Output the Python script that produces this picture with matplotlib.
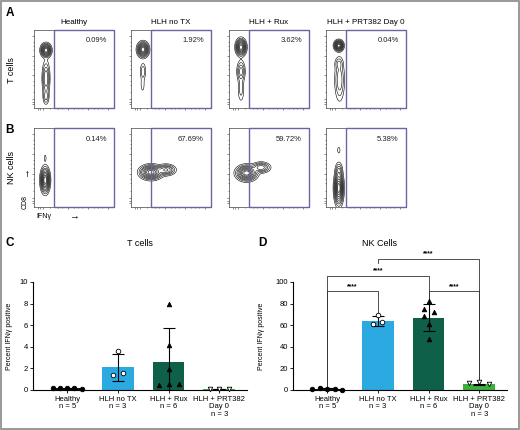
import numpy as np
import matplotlib
matplotlib.use("Agg")
import matplotlib.pyplot as plt
from matplotlib.patches import Rectangle

plt.rcParams["font.family"] = ["Liberation Sans", "DejaVu Sans"]

W, H = 520, 430

# ------------------------
# Flow panels (A, B)
# ------------------------
conditions = ["Healthy", "HLH no TX", "HLH + Rux", "HLH + PRT382 Day 0"]
t_cell_pct = ["0.09%", "1.92%", "3.62%", "0.04%"]
nk_cell_pct = ["0.14%", "67.69%", "59.72%", "5.38%"]

# population blobs per plot: (x, y, sx, sy, weight) in axis fraction units
t_cell_pops = [
    [(0.15, 0.74, 0.030, 0.040, 1.0), (0.15, 0.38, 0.024, 0.110, 0.30), (0.15, 0.14, 0.020, 0.05, 0.15)],
    [(0.15, 0.75, 0.033, 0.045, 1.0), (0.15, 0.47, 0.020, 0.060, 0.12), (0.145, 0.30, 0.015, 0.06, 0.06)],
    [(0.15, 0.78, 0.030, 0.050, 1.0), (0.15, 0.47, 0.026, 0.070, 0.25), (0.15, 0.24, 0.022, 0.09, 0.10)],
    [(0.16, 0.80, 0.027, 0.032, 1.0), (0.17, 0.36, 0.032, 0.140, 0.20), (0.16, 0.57, 0.026, 0.04, 0.12)],
]
nk_cell_pops = [
    [(0.14, 0.34, 0.027, 0.075, 1.0), (0.14, 0.62, 0.010, 0.035, 0.05)],
    [(0.25, 0.44, 0.065, 0.042, 1.0), (0.44, 0.47, 0.055, 0.033, 0.45)],
    [(0.22, 0.43, 0.060, 0.045, 1.0), (0.40, 0.50, 0.055, 0.032, 0.40)],
    [(0.16, 0.24, 0.027, 0.100, 1.0), (0.16, 0.46, 0.023, 0.055, 0.18), (0.16, 0.72, 0.012, 0.030, 0.06)],
]

gate_x = 0.25
flow_left = [34, 131, 229, 326]
flow_w = 80
rows = [(30, 108), (128, 207)]

# ------------------------
# Bar panels (C, D)
# ------------------------
categories = ["Healthy\nn = 5", "HLH no TX\nn = 3", "HLH + Rux\nn = 6", "HLH + PRT382\nDay 0\nn = 3"]
bar_colors = ["#111111", "#2BA9E1", "#0E6148", "#3CAF3C"]
markers = ["o", "o", "^", "v"]
marker_fill = ["black", "white", "black", "white"]

t_mean = [0.17, 2.1, 2.6, 0.1]
t_sd = [0.04, 1.25, 3.1, 0.02]
t_points = [
    [0.18, 0.2, 0.2, 0.2, 0.12],
    [3.6, 1.4, 1.55],
    [8.0, 4.2, 1.9, 0.45, 0.6, 0.55],
    [0.1, 0.1, 0.1],
]
t_offsets = [
    [-0.29, -0.14, 0, 0.14, 0.29],
    [0, -0.1, 0.1],
    [0, 0, 0, -0.19, 0, 0.2],
    [-0.19, 0, 0.19],
]

nk_mean = [1.0, 63.7, 67.0, 5.2]
nk_sd = [0.6, 4.6, 12.8, 0.8]
nk_points = [
    [0.5, 1.9, 1.2, 1.2, 0.1],
    [69.5, 61.0, 62.6],
    [82.5, 75.4, 72.3, 68.3, 61.0, 46.8],
    [6.2, 7.7, 5.5],
]
nk_offsets = [
    [-0.3, -0.15, 0, 0.15, 0.29],
    [0, -0.1, 0.085],
    [0, -0.1, 0.1, -0.1, 0, 0],
    [-0.2, 0, 0.19],
]

# brackets: (left group, right group, line y, left leg end, right leg end)
nk_brackets = [
    (0, 1, 91.4, 3.0, 69.5),
    (0, 2, 106.0, 3.0, 82.0),
    (1, 3, 121.5, 117.8, 9.0),
    (2, 3, 91.4, 81.0, 9.0),
]


def px_axes(l, t, r, b):
    return fig.add_axes([l / W, 1 - b / H, (r - l) / W, (b - t) / H])


fig = plt.figure(figsize=(W / 100, H / 100), dpi=100)

gx, gy = np.meshgrid(np.linspace(0, 1, 240), np.linspace(0, 1, 240))
levels = [0.03, 0.07, 0.13, 0.2, 0.3, 0.42, 0.55, 0.7, 0.85]

for r, (pops, pcts) in enumerate([(t_cell_pops, t_cell_pct), (nk_cell_pops, nk_cell_pct)]):
    top, bot = rows[r]
    for c in range(4):
        ax = px_axes(flow_left[c], top, flow_left[c] + flow_w, bot)
        dens = np.zeros_like(gx)
        for (x0, y0, sx, sy, w) in pops[c]:
            dens += w * np.exp(-0.5 * (((gx - x0) / sx) ** 2 + ((gy - y0) / sy) ** 2))
        ax.contour(gx, gy, dens, levels=[l * dens.max() for l in levels],
                   colors="black", linewidths=0.4)
        ax.add_patch(Rectangle((gate_x, 0), 1 - gate_x, 1, fill=False,
                               edgecolor="#6A64A0", lw=1.0, zorder=5, clip_on=False))
        ax.text(0.91, 0.86, pcts[c], transform=ax.transAxes, ha="right",
                va="center", fontsize=5.5, color="#222222")
        ax.set_xlim(0, 1)
        ax.set_ylim(0, 1)
        for s in ax.spines.values():
            s.set_linewidth(0.5)
            s.set_color("#444444")
        ax.set_xticks([0.05, 0.08, 0.11, 0.42, 0.67, 0.92])
        ax.set_xticks([0.2, 0.3, 0.35, 0.5, 0.55, 0.6, 0.75, 0.8, 0.85], minor=True)
        ax.set_yticks([0.05, 0.08, 0.11, 0.42, 0.67, 0.92])
        ax.set_yticks([0.2, 0.3, 0.35, 0.5, 0.55, 0.6, 0.75, 0.8, 0.85], minor=True)
        ax.tick_params(which="both", length=1.5, width=0.4, labelbottom=False,
                       labelleft=False, color="#333333")
        ax.tick_params(which="minor", length=0.9)
        if r == 0:
            ax.text(0.5, 1.1, conditions[c], transform=ax.transAxes, ha="center",
                    va="center", fontsize=5.8)

fig.text(12 / W, 1 - 70 / H, "T cells", rotation=90, ha="center", va="center", fontsize=6.5)
fig.text(12 / W, 1 - 168 / H, "NK cells", rotation=90, ha="center", va="center", fontsize=6.5)
fig.text(25 / W, 1 - 172 / H, "\u2192", rotation=90, ha="center", va="center", fontsize=7)
fig.text(25 / W, 1 - 202 / H, "CD8", rotation=90, ha="center", va="center", fontsize=5)
fig.text(44 / W, 1 - 217 / H, "IFN\u03b3", ha="center", va="center", fontsize=5)
fig.text(74 / W, 1 - 216 / H, "\u2192", ha="center", va="center", fontsize=7)


def bar_panel(ax, means, sds, points, offsets, ymax, yticks):
    x = np.arange(len(categories))
    ax.bar(x, means, width=0.62, color=bar_colors, zorder=1)
    ax.errorbar(x, means, yerr=sds, fmt="none", ecolor="black", elinewidth=0.8,
                capsize=4.5, capthick=0.8, zorder=2)
    for i in range(len(categories)):
        ax.plot(x[i] + np.array(offsets[i]), points[i], linestyle="none",
                marker=markers[i], markersize=3.3, markerfacecolor=marker_fill[i],
                markeredgecolor="black", markeredgewidth=0.6, zorder=3, clip_on=False)
    ax.set_xlim(-0.68, 3.55)
    ax.set_ylim(0, ymax)
    ax.set_yticks(yticks)
    ax.set_xticks(x)
    ax.set_xticklabels(categories, fontsize=5.5, linespacing=1.15)
    ax.tick_params(axis="y", labelsize=5.5, length=2, width=0.6, pad=1.5)
    ax.tick_params(axis="x", length=2, width=0.6, pad=2)
    for s in ["top", "right"]:
        ax.spines[s].set_visible(False)
    for s in ["left", "bottom"]:
        ax.spines[s].set_linewidth(0.8)
    ax.set_ylabel("Percent IFN\u03b3 positive", fontsize=5, fontstretch="condensed", labelpad=2)
    return x


axC = px_axes(33, 282, 247, 390)
bar_panel(axC, t_mean, t_sd, t_points, t_offsets, 10, [0, 2, 4, 6, 8, 10])
axC.yaxis.set_label_coords(-0.095, 0.5)
fig.text(140 / W, 1 - 243 / H, "T cells", ha="center", va="center", fontsize=6.5)

axD = px_axes(293, 282, 507, 390)
xd = bar_panel(axD, nk_mean, nk_sd, nk_points, nk_offsets, 100, [0, 20, 40, 60, 80, 100])
axD.yaxis.set_label_coords(-0.13, 0.5)
fig.text(380 / W, 1 - 243 / H, "NK Cells", ha="center", va="center", fontsize=6.5)

for (a, b, y, la, lb) in nk_brackets:
    axD.plot([xd[a], xd[a], xd[b], xd[b]], [la, y, y, lb], color="#333333",
             lw=0.6, clip_on=False, zorder=0.5)
    axD.text((xd[a] + xd[b]) / 2, y + 1.0, "****", ha="center", va="bottom",
             fontsize=4.8, fontweight="bold")

for lab, (px, py) in zip("ABCD", [(10, 13), (10, 130), (10, 243), (262, 243)]):
    fig.text(px / W, 1 - py / H, lab, ha="center", va="center", fontsize=8.5, fontweight="bold")

fig.add_artist(Rectangle((0.002, 0.002), 0.996, 0.996, transform=fig.transFigure,
                         fill=False, edgecolor="#888888", lw=1.2))

fig.savefig("out.png", dpi=100)
